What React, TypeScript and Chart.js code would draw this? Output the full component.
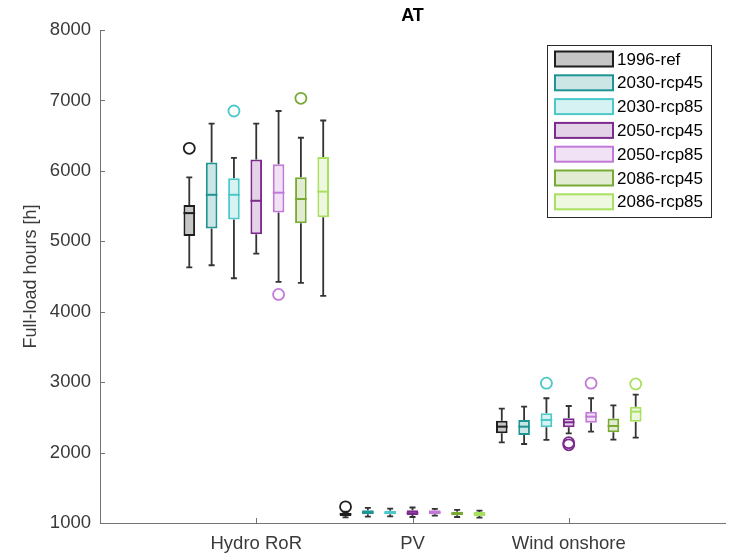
import React, { useEffect, useRef } from 'react';
import { Chart, registerables } from 'chart.js';

Chart.register(...registerables);

const FONT = '"Liberation Sans", Arial, Helvetica, sans-serif';

const categories = ['Hydro RoR', 'PV', 'Wind onshore'];
const seriesLabels = ['1996-ref', '2030-rcp45', '2030-rcp85', '2050-rcp45', '2050-rcp85', '2086-rcp45', '2086-rcp85'];
const edgeColors = ['#1e1e1e', '#1f9494', '#4cc8c8', '#7d2a8e', '#c27ad8', '#78aa34', '#a8e060'];
const fillColors = ['#c6c6c6', '#cce6e6', '#d7f2f2', '#e3d2e8', '#f1e2f6', '#e1ecd2', '#eef8e0'];
const yTicks = [1000, 2000, 3000, 4000, 5000, 6000, 7000, 8000];

// per series: [Hydro RoR, PV, Wind onshore]
const lowerWhisker = [
  [4630, 1080, 2145],
  [4660, 1090, 2122],
  [4475, 1095, 2180],
  [4825, 1085, 2273],
  [4425, 1105, 2297],
  [4410, 1085, 2183],
  [4225, 1075, 2211],
];
const quartile1 = [
  [5075, 1100, 2273],
  [5180, 1125, 2250],
  [5310, 1125, 2360],
  [5100, 1115, 2360],
  [5410, 1125, 2425],
  [5255, 1110, 2288],
  [5340, 1100, 2439],
];
const medians = [
  [5400, 1125, 2368],
  [5660, 1150, 2368],
  [5660, 1145, 2463],
  [5575, 1140, 2430],
  [5690, 1150, 2510],
  [5600, 1135, 2377],
  [5705, 1125, 2581],
];
const quartile3 = [
  [5515, 1145, 2453],
  [6120, 1180, 2463],
  [5895, 1175, 2558],
  [6160, 1180, 2487],
  [6095, 1180, 2581],
  [5910, 1160, 2482],
  [6195, 1155, 2652],
];
const upperWhisker = [
  [5908, 1160, 2623],
  [6670, 1215, 2652],
  [6185, 1205, 2771],
  [6670, 1220, 2661],
  [6850, 1200, 2771],
  [6470, 1185, 2671],
  [6715, 1175, 2822],
];
const outliers = [
  [[6320], [1230], []],
  [[], [], []],
  [[6850], [], [2985]],
  [[], [], [2110, 2140]],
  [[4245], [], [2985]],
  [[7030], [], []],
  [[], [], [2975]],
];

const axisColor = '#737373';
const textColor = '#3a3a3a';

const boxPlugin = {
  id: 'boxExtras',
  beforeDatasetsDraw(chart: any) {
    const ctx = chart.ctx;
    const y = chart.scales.y;
    ctx.save();
    ctx.strokeStyle = '#333333';
    ctx.lineWidth = 1.8;
    seriesLabels.forEach((_, s) => {
      const meta = chart.getDatasetMeta(s);
      categories.forEach((_, c) => {
        const el = meta.data[c + 1];
        if (!el) return;
        const x = el.x;
        const cap = 3;
        const pairs = [
          [quartile3[s][c], upperWhisker[s][c]],
          [quartile1[s][c], lowerWhisker[s][c]],
        ];
        pairs.forEach(([from, to]) => {
          const p1 = y.getPixelForValue(from);
          const p2 = y.getPixelForValue(to);
          ctx.beginPath();
          ctx.moveTo(x, p1);
          ctx.lineTo(x, p2);
          ctx.moveTo(x - cap, p2);
          ctx.lineTo(x + cap, p2);
          ctx.stroke();
        });
      });
    });
    ctx.restore();
  },
  afterDatasetsDraw(chart: any) {
    const ctx = chart.ctx;
    const y = chart.scales.y;
    ctx.save();
    seriesLabels.forEach((_, s) => {
      const meta = chart.getDatasetMeta(s);
      categories.forEach((_, c) => {
        const el = meta.data[c + 1];
        if (!el) return;
        const x = el.x;
        const w = el.width;
        const pm = y.getPixelForValue(medians[s][c]);
        ctx.strokeStyle = edgeColors[s];
        ctx.lineWidth = 2;
        ctx.beginPath();
        ctx.moveTo(x - w / 2, pm);
        ctx.lineTo(x + w / 2, pm);
        ctx.stroke();
        outliers[s][c].forEach((v) => {
          const py = y.getPixelForValue(v);
          ctx.beginPath();
          ctx.lineWidth = 1.8;
          ctx.arc(x, py, 5.5, 0, Math.PI * 2);
          ctx.stroke();
        });
      });
    });
    ctx.restore();
  },
  afterDraw(chart: any) {
    const ctx = chart.ctx;
    const area = chart.chartArea;
    const xs = chart.scales.x;
    const ys = chart.scales.y;
    ctx.save();
    // inward tick marks
    ctx.strokeStyle = axisColor;
    ctx.lineWidth = 1;
    ctx.beginPath();
    yTicks.forEach((t) => {
      const py = Math.round(ys.getPixelForValue(t)) + 0.5;
      ctx.moveTo(area.left, py);
      ctx.lineTo(area.left + 5, py);
    });
    categories.forEach((_, i) => {
      const px = Math.round(xs.getPixelForValue(i + 1)) + 0.5;
      ctx.moveTo(px, area.bottom);
      ctx.lineTo(px, area.bottom - 5);
    });
    ctx.stroke();

    // title
    ctx.fillStyle = '#000000';
    ctx.font = `bold 18px ${FONT}`;
    ctx.textAlign = 'center';
    ctx.textBaseline = 'alphabetic';
    ctx.fillText('AT', (area.left + area.right) / 2, 21);

    // legend
    const lx = 547.5, ly = 45.5, lw = 164, lh = 172;
    ctx.fillStyle = '#ffffff';
    ctx.fillRect(lx, ly, lw, lh);
    ctx.strokeStyle = '#2a2a2a';
    ctx.lineWidth = 1;
    ctx.strokeRect(lx, ly, lw, lh);
    ctx.font = `17px ${FONT}`;
    ctx.textAlign = 'left';
    ctx.textBaseline = 'middle';
    seriesLabels.forEach((label, i) => {
      const cy = 59 + i * 23.8;
      ctx.fillStyle = fillColors[i];
      ctx.fillRect(555, cy - 7.5, 58, 15);
      ctx.strokeStyle = edgeColors[i];
      ctx.lineWidth = 2;
      ctx.strokeRect(555, cy - 7.5, 58, 15);
      ctx.fillStyle = '#000000';
      ctx.fillText(label, 617, cy + 1);
    });
    ctx.restore();
  },
};

export default function App() {
  const canvasRef = useRef<HTMLCanvasElement | null>(null);

  useEffect(() => {
    const canvas = canvasRef.current;
    if (!canvas) return;
    const labels = ['', ...categories, ''];
    const datasets = seriesLabels.map((label, s) => ({
      label,
      data: [null, ...categories.map((_, c) => [quartile1[s][c], quartile3[s][c]]), null],
      backgroundColor: fillColors[s],
      borderColor: edgeColors[s],
      borderWidth: 2,
      borderSkipped: false,
      categoryPercentage: 1,
      barPercentage: 0.52,
    }));
    const chart = new Chart(canvas, {
      type: 'bar',
      data: { labels, datasets: datasets as any },
      options: {
        responsive: false,
        animation: false,
        devicePixelRatio: 1,
        layout: { padding: { top: 30, right: 5, bottom: 0, left: 0 } },
        plugins: {
          legend: { display: false },
          title: { display: false },
          tooltip: { enabled: false },
        },
        scales: {
          x: {
            type: 'category',
            offset: false,
            grid: { display: false, drawTicks: false },
            border: { display: true, color: axisColor, width: 1 },
            ticks: {
              autoSkip: false,
              maxRotation: 0,
              padding: 10,
              color: textColor,
              font: { family: FONT, size: 18.5 },
            },
            afterFit: (scale: any) => {
              scale.height = 33;
              scale.paddingRight = 0;
              scale.paddingLeft = 0;
            },
          },
          y: {
            type: 'linear',
            min: 1000,
            max: 8000,
            grid: { display: false, drawTicks: false },
            border: { display: true, color: axisColor, width: 1 },
            ticks: {
              stepSize: 1000,
              padding: 9,
              color: textColor,
              font: { family: FONT, size: 18.5 },
              callback: (v: any) => String(v),
            },
            title: {
              display: true,
              text: 'Full-load hours [h]',
              color: textColor,
              font: { family: FONT, size: 18 },
              padding: { top: 20, bottom: 0 },
            },
            afterFit: (scale: any) => {
              scale.width = 100;
            },
          },
        },
      } as any,
      plugins: [boxPlugin],
    });
    return () => chart.destroy();
  }, []);

  return (
    <div style={{ position: 'fixed', left: 0, top: 0, width: 730, height: 556, background: '#ffffff' }}>
      <canvas ref={canvasRef} width={730} height={556} />
    </div>
  );
}
